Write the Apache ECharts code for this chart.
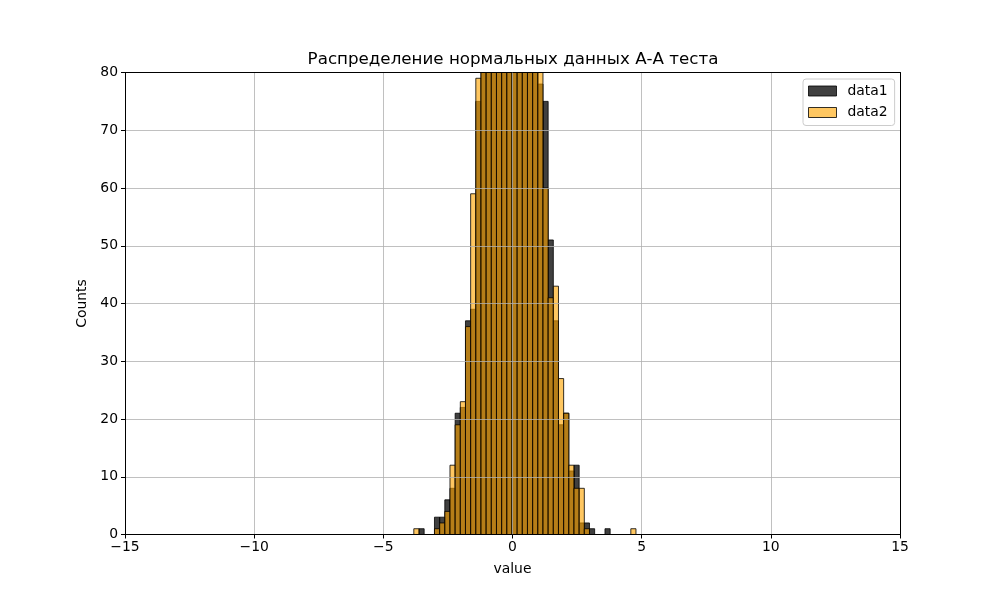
<!DOCTYPE html>
<html>
<head>
<meta charset="utf-8">
<script src="https://cdn.jsdelivr.net/npm/echarts@6/dist/echarts.min.js"></script>
<style>html,body{margin:0;padding:0;background:#fff;}#c{width:1000px;height:600px;}</style>
</head>
<body>
<div id="c"></div>
<script>
// Bin edges (44 edges -> 43 bins)
const binEdges = [-3.82,-3.62,-3.42,-3.22,-3.02,-2.82,-2.62,-2.42,-2.22,-2.02,-1.82,-1.62,-1.42,-1.22,-1.02,-0.82,-0.62,-0.42,-0.22,-0.02,0.18,0.38,0.58,0.78,0.98,1.18,1.38,1.58,1.78,1.98,2.18,2.38,2.58,2.78,2.98,3.18,3.38,3.58,3.78,3.98,4.18,4.38,4.58,4.78];
// Counts per bin (values above 80 are clipped in the picture; estimated)
const data1Counts = [0,1,0,0,3,3,6,8,21,22,37,39,75,95,110,126,140,150,157,160,152,139,124,104,78,75,51,37,19,21,11,12,2,2,1,0,0,1,0,0,0,0,0];
const data2Counts = [1,0,0,0,1,2,4,12,19,23,36,59,79,97,112,124,138,152,158,156,150,141,122,106,86,60,41,43,27,21,12,8,8,1,0,0,0,0,0,0,0,0,1];
const seriesNames = ['data1','data2'];
const xTicks = [-15,-10,-5,0,5,10,15];
const yTicks = [0,10,20,30,40,50,60,70,80];

const FONT = 'DejaVu Sans';
const fmtMinus = v => String(v).replace('-', '\u2212');

function toRows(counts){
  return counts.map((c,i)=>[binEdges[i], binEdges[i+1], c]);
}
function renderItem(params, api){
  const x0 = api.value(0), x1 = api.value(1), c = api.value(2);
  if (!c) return null;
  const p0 = api.coord([x0, c]);
  const p1 = api.coord([x1, 0]);
  const st = api.style();
  return {
    type: 'rect',
    shape: {x: p0[0], y: p0[1], width: p1[0]-p0[0], height: p1[1]-p0[1]},
    style: {fill: st.fill, stroke: st.stroke, lineWidth: 1}
  };
}
const styles = [
  {color: 'rgba(0,0,0,0.75)', borderColor: 'rgba(0,0,0,0.8)', borderWidth: 1},
  {color: 'rgba(255,165,0,0.62)', borderColor: 'rgba(0,0,0,0.8)', borderWidth: 1}
];

const chart = echarts.init(document.getElementById('c'), null, {renderer: 'canvas'});
const axisLabelStyle = {color: '#000', fontFamily: FONT, fontSize: 13.9};
chart.setOption({
  animation: false,
  backgroundColor: '#fff',
  title: {
    text: 'Распределение нормальных данных А-А теста',
    left: 508, top: 46, textAlign: 'center',
    textStyle: {fontFamily: FONT, fontSize: 16.7, fontWeight: 'normal', color: '#000'}
  },
  grid: {left: 125, right: 100, top: 72.5, bottom: 65.5, containLabel: false},
  legend: {
    orient: 'vertical', left: 803, top: 79,
    data: seriesNames.map((n,i)=>({name: n, itemStyle: styles[i]})),
    icon: 'rect', itemWidth: 28, itemHeight: 10, itemGap: 7.5,
    textStyle: {fontFamily: FONT, fontSize: 13.9, color: '#000', lineHeight: 14, padding: [0,0,0,6]},
    padding: [5, 7, 6, 5],
    borderColor: '#cccccc', borderWidth: 1, borderRadius: 3,
    backgroundColor: 'rgba(255,255,255,0.8)', z: 10
  },
  xAxis: [{
    type: 'value', min: xTicks[0], max: xTicks[xTicks.length-1], interval: 5, z: 3,
    name: 'value', nameLocation: 'middle', nameGap: 28,
    nameTextStyle: axisLabelStyle,
    axisLine: {show: true, onZero: false, lineStyle: {color: '#000', width: 1}},
    axisTick: {show: true, length: 4, lineStyle: {color: '#000'}},
    axisLabel: Object.assign({margin: 6, formatter: fmtMinus}, axisLabelStyle),
    splitLine: {show: true, lineStyle: {color: '#b0b0b0', width: 0.8}}
  },{
    type: 'value', position: 'top', min: xTicks[0], max: xTicks[xTicks.length-1], z: 3,
    axisLine: {show: true, onZero: false, lineStyle: {color: '#000', width: 1}},
    axisTick: {show: false}, axisLabel: {show: false}, splitLine: {show: false}
  }],
  yAxis: [{
    type: 'value', min: yTicks[0], max: yTicks[yTicks.length-1], interval: 10, z: 3,
    name: 'Counts', nameLocation: 'middle', nameGap: 34, nameRotate: 90,
    nameTextStyle: axisLabelStyle,
    axisLine: {show: true, onZero: false, lineStyle: {color: '#000', width: 1}},
    axisTick: {show: true, length: 4, lineStyle: {color: '#000'}},
    axisLabel: Object.assign({margin: 7}, axisLabelStyle),
    splitLine: {show: true, lineStyle: {color: '#b0b0b0', width: 0.8}}
  },{
    type: 'value', position: 'right', min: yTicks[0], max: yTicks[yTicks.length-1], z: 3,
    axisLine: {show: true, onZero: false, lineStyle: {color: '#000', width: 1}},
    axisTick: {show: false}, axisLabel: {show: false}, splitLine: {show: false}
  }],
  series: [
    {name: seriesNames[0], type: 'custom', renderItem, clip: true,
     itemStyle: styles[0], encode: {x: [0,1], y: 2}, data: toRows(data1Counts), z: 2},
    {name: seriesNames[1], type: 'custom', renderItem, clip: true,
     itemStyle: styles[1], encode: {x: [0,1], y: 2}, data: toRows(data2Counts), z: 2}
  ]
});
</script>
</body>
</html>
